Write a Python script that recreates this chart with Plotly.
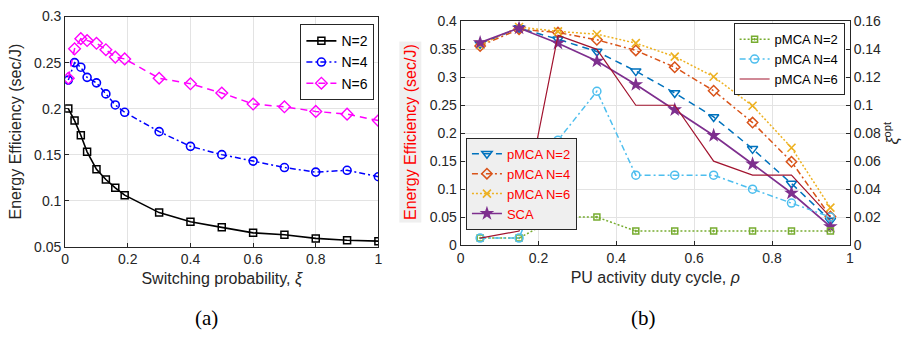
import plotly.graph_objects as go

# ---------------- data: panel (a) ----------------
xi = [0.01, 0.03, 0.05, 0.07, 0.1, 0.13, 0.16, 0.19, 0.3, 0.4, 0.5, 0.6, 0.7, 0.8, 0.9, 1.0]
ee_n2 = [0.200, 0.187, 0.171, 0.153, 0.134, 0.123, 0.114, 0.106, 0.087, 0.077, 0.071, 0.065, 0.063, 0.059, 0.057, 0.056]
ee_n4 = [0.231, 0.250, 0.245, 0.234, 0.228, 0.216, 0.204, 0.196, 0.175, 0.159, 0.150, 0.143, 0.136, 0.131, 0.133, 0.126]
ee_n6 = [0.233, 0.265, 0.276, 0.274, 0.271, 0.264, 0.256, 0.254, 0.233, 0.227, 0.217, 0.205, 0.202, 0.197, 0.194, 0.187]

# ---------------- data: panel (b) ----------------
rho = [0.05, 0.15, 0.25, 0.35, 0.45, 0.55, 0.65, 0.75, 0.85, 0.95]
ee_pmca2 = [0.360, 0.388, 0.368, 0.346, 0.311, 0.272, 0.229, 0.172, 0.110, 0.044]
ee_pmca4 = [0.356, 0.386, 0.380, 0.367, 0.348, 0.318, 0.276, 0.219, 0.149, 0.051]
ee_pmca6 = [0.358, 0.390, 0.382, 0.377, 0.361, 0.337, 0.301, 0.249, 0.174, 0.067]
ee_sca = [0.362, 0.388, 0.361, 0.329, 0.287, 0.242, 0.196, 0.145, 0.093, 0.033]
xiopt_pmca2 = [0.005, 0.005, 0.02, 0.02, 0.01, 0.01, 0.01, 0.01, 0.01, 0.01]
xiopt_pmca4 = [0.005, 0.005, 0.075, 0.11, 0.05, 0.05, 0.05, 0.04, 0.03, 0.02]
xiopt_pmca6 = [0.005, 0.01, 0.15, 0.14, 0.10, 0.10, 0.06, 0.05, 0.05, 0.02]

FONT = "Liberation Sans, Arial, sans-serif"
AX = "#262626"
GRID = "#e3e3e3"
DASH = "6px,4px"
DASHDOT = "6px,3px,2px,3px"
DOT = "2px,2px"

fig = go.Figure()

# panel (a)
fig.add_trace(go.Scatter(x=xi, y=ee_n2, name="N=2", mode="lines+markers",
                         line=dict(color="black", width=1.6, dash="solid"),
                         marker=dict(symbol="square-open", size=7, color="black", line=dict(width=1.5)),
                         xaxis="x", yaxis="y", legend="legend"))
fig.add_trace(go.Scatter(x=xi, y=ee_n4, name="N=4", mode="lines+markers",
                         line=dict(color="#0000ff", width=1.5, dash=DASHDOT),
                         marker=dict(symbol="circle-open", size=8, color="#0000ff", line=dict(width=1.6)),
                         xaxis="x", yaxis="y", legend="legend"))
fig.add_trace(go.Scatter(x=xi, y=ee_n6, name="N=6", mode="lines+markers",
                         line=dict(color="#ff00ff", width=1.5, dash="7px,5px"),
                         marker=dict(symbol="diamond-open", size=9, color="#ff00ff", line=dict(width=1.4)),
                         xaxis="x", yaxis="y", legend="legend"))

# panel (b) left axis
fig.add_trace(go.Scatter(x=rho, y=ee_pmca2, name="pMCA N=2", mode="lines+markers",
                         line=dict(color="#0072BD", width=1.5, dash="7px,5px"),
                         marker=dict(symbol="triangle-down-open", size=9, color="#0072BD", line=dict(width=1.5)),
                         xaxis="x2", yaxis="y3", legend="legend2"))
fig.add_trace(go.Scatter(x=rho, y=ee_pmca4, name="pMCA N=4", mode="lines+markers",
                         line=dict(color="#D95319", width=1.5, dash=DASHDOT),
                         marker=dict(symbol="diamond-open", size=8, color="#D95319", line=dict(width=1.5)),
                         xaxis="x2", yaxis="y3", legend="legend2"))
fig.add_trace(go.Scatter(x=rho, y=ee_pmca6, name="pMCA N=6", mode="lines+markers",
                         line=dict(color="#EDB120", width=1.5, dash=DOT),
                         marker=dict(symbol="x-thin-open", size=8, color="#EDB120", line=dict(width=1.6, color="#EDB120")),
                         xaxis="x2", yaxis="y3", legend="legend2"))
fig.add_trace(go.Scatter(x=rho, y=ee_sca, name="SCA", mode="lines+markers",
                         line=dict(color="#7E2F8E", width=1.7, dash="solid"),
                         marker=dict(symbol="star", size=11, color="#7E2F8E"),
                         xaxis="x2", yaxis="y3", legend="legend2"))

# panel (b) right axis
fig.add_trace(go.Scatter(x=rho, y=xiopt_pmca2, name="pMCA N=2", mode="lines+markers",
                         line=dict(color="#77AC30", width=1.5, dash=DOT),
                         marker=dict(symbol="square-open-dot", size=6, color="#77AC30", line=dict(width=1.5)),
                         xaxis="x2", yaxis="y4", legend="legend3"))
fig.add_trace(go.Scatter(x=rho, y=xiopt_pmca4, name="pMCA N=4", mode="lines+markers",
                         line=dict(color="#4DBEEE", width=1.5, dash=DASHDOT),
                         marker=dict(symbol="circle-open", size=8, color="#4DBEEE", line=dict(width=1.5)),
                         xaxis="x2", yaxis="y4", legend="legend3"))
fig.add_trace(go.Scatter(x=rho, y=xiopt_pmca6, name="pMCA N=6", mode="lines",
                         line=dict(color="#A2142F", width=1.2, dash="solid"),
                         xaxis="x2", yaxis="y4", legend="legend3"))

W, H = 917, 353
def px(x):
    return x / W
def py(y):
    return 1 - y / H

axis_common = dict(showline=True, linecolor=AX, linewidth=1, mirror=True,
                   ticks="inside", ticklen=4, tickcolor=AX,
                   showgrid=True, gridcolor=GRID, gridwidth=1, zeroline=False,
                   tickfont=dict(family=FONT, size=14, color=AX),
                   title_font=dict(family=FONT, size=16, color=AX))

fig.update_layout(
    width=W, height=H, margin=dict(l=0, r=0, t=0, b=0),
    paper_bgcolor="white", plot_bgcolor="white",
    font=dict(family=FONT, size=14, color=AX),
    xaxis=dict(domain=[px(61.7), px(377.7)], anchor="y", range=[0, 1], dtick=0.2,
               title=dict(text="Switching probability, <i>ξ</i>", standoff=6), **axis_common),
    yaxis=dict(domain=[py(250), py(9)], anchor="x", range=[0.05, 0.3], dtick=0.05,
               title=dict(text="Energy Efficiency (sec/J)", standoff=8), **axis_common),
    xaxis2=dict(domain=[px(460.7), px(853.3)], anchor="y3", range=[0, 1], dtick=0.2,
                title=dict(text="PU activity duty cycle, <i>ρ</i>", standoff=6), **axis_common),
    yaxis3=dict(domain=[py(248.3), py(14)], anchor="x2", range=[0, 0.4], dtick=0.05, **axis_common),
    yaxis4=dict(overlaying="y3", anchor="x2", side="right", range=[0, 0.16], dtick=0.02,
                showline=True, linecolor=AX, linewidth=1, ticks="inside", ticklen=4, tickcolor=AX,
                showgrid=False, zeroline=False,
                tickfont=dict(family=FONT, size=14, color=AX),
                title=dict(text="<i>ξ</i><sup>opt</sup>", font=dict(family=FONT, size=16, color=AX), standoff=6)),
    legend=dict(x=px(299), y=py(17), xanchor="left", yanchor="top",
                bgcolor="white", bordercolor=AX, borderwidth=1,
                font=dict(family=FONT, size=14, color="black"), tracegroupgap=0, itemwidth=30),
    legend2=dict(x=px(466), y=py(136), xanchor="left", yanchor="top",
                 bgcolor="#efefef", bordercolor=AX, borderwidth=1,
                 font=dict(family=FONT, size=13, color="#ff0000"), tracegroupgap=0, itemwidth=30),
    legend3=dict(x=px(848), y=py(16), xanchor="right", yanchor="top",
                 bgcolor="white", bordercolor=AX, borderwidth=1,
                 font=dict(family=FONT, size=13, color="black"), tracegroupgap=0, itemwidth=30),
    showlegend=True,
)

fig.add_annotation(x=px(409.5), y=py(130), xref="paper", yref="paper",
                   text="Energy Efficiency (sec/J)", textangle=-90, showarrow=False,
                   font=dict(family=FONT, size=16, color="#ff0000"),
                   bgcolor="#efefef", borderpad=2)
fig.add_annotation(x=px(191), y=py(339), xref="paper", yref="paper", text="(a)", showarrow=False,
                   font=dict(family="Liberation Serif, Times New Roman, serif", size=21, color="black"))
fig.add_annotation(x=px(660), y=py(339), xref="paper", yref="paper", text="(b)", showarrow=False,
                   font=dict(family="Liberation Serif, Times New Roman, serif", size=21, color="black"))

fig.write_html("out.html")
